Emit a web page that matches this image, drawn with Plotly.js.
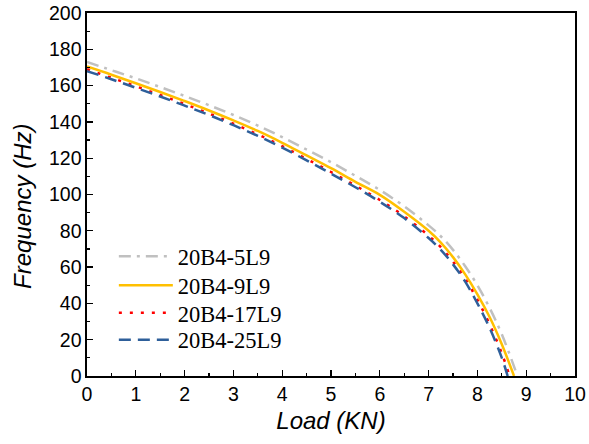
<!DOCTYPE html>
<html>
<head>
<meta charset="utf-8">
<script src="https://cdn.plot.ly/plotly-3.0.1.min.js"></script>
<style>html,body{margin:0;padding:0;background:#fff;}#chart{width:589px;height:444px;}</style>
</head>
<body>
<div id="chart"></div>
<script>
// Load (KN)
const loadA = [0, 0.5, 1, 1.5, 2, 2.5, 3, 3.5, 4, 4.5, 5, 5.5, 6, 6.5, 7, 7.25, 7.5, 7.75, 8, 8.25, 8.5];
// 20B4-5L9
const freq5 = [173, 168.5, 164, 159.2, 154.3, 149.2, 143.8, 138, 131.6, 124.8, 117.8, 110.3, 102.5, 93.5, 83, 77, 69.5, 60.5, 50, 37.5, 23];
const end5 = 8.82;
// 20B4-9L9
const freq9 = [170.5, 166, 161.3, 156.5, 151.5, 146.3, 140.8, 135, 128.5, 121.5, 114.5, 107, 99.8, 90.5, 80, 73.5, 65.5, 56, 45, 32.5, 17.5];
const end9 = 8.75;
// 20B4-17L9
const freq17 = [169, 164.3, 159.6, 154.8, 149.8, 144.6, 139, 133.1, 126.6, 119.6, 112.4, 104.9, 97, 88, 77.3, 71, 63, 53.5, 42, 28.5, 12.5];
const end17 = 8.66;
// 20B4-25L9
const freq25 = [168, 163.5, 158.8, 154, 149, 143.8, 138.2, 132.3, 125.8, 118.8, 111.5, 104, 96, 87, 76, 69.5, 61.5, 52, 40, 26.5, 10];
const end25 = 8.62;

const names = ['20B4-5L9', '20B4-9L9', '20B4-17L9', '20B4-25L9'];
const xTicks = [0,1,2,3,4,5,6,7,8,9,10];
const yTicks = [0,20,40,60,80,100,120,140,160,180,200];
const xTitle = 'Load (KN)';
const yTitle = 'Frequency (Hz)';

function series(vals, end) {
  return {x: loadA.concat([end]), y: vals.concat([0])};
}
const s5 = series(freq5, end5), s9 = series(freq9, end9), s17 = series(freq17, end17), s25 = series(freq25, end25);

const traces = [
  {x: s5.x, y: s5.y, name: names[0], legend: 'legend', mode: 'lines', line: {color: '#c0c0c0', width: 2.5, dash: '12px,6px,3px,6px', shape: 'spline'}},
  {x: s9.x, y: s9.y, name: names[1], legend: 'legend2', mode: 'lines', line: {color: '#ffc000', width: 2.5, shape: 'spline'}},
  {x: s17.x, y: s17.y, name: names[2], legend: 'legend3', mode: 'lines', line: {color: '#ff0000', width: 2.5, dash: '3px,8px', shape: 'spline'}},
  {x: s25.x, y: s25.y, name: names[3], legend: 'legend4', mode: 'lines', line: {color: '#2e5f9a', width: 2.5, dash: '12px,7px', shape: 'spline'}}
];

const axisCommon = {
  showgrid: false, zeroline: false, showline: true, linecolor: '#000', linewidth: 1.6,
  mirror: true, ticks: 'inside', ticklen: 6, tickwidth: 1.3, tickcolor: '#000',
  tickfont: {family: 'Liberation Sans, Arial', size: 19.5, color: '#000'}
};

function legendAt(y) {
  return {x: 0.055, y: y, xanchor: 'left', yanchor: 'middle', bgcolor: 'rgba(0,0,0,0)',
          font: {family: 'Liberation Serif, Times New Roman', size: 22.5, color: '#000'},
          itemwidth: 54};
}

const layout = {
  width: 589, height: 444,
  margin: {l: 87, r: 14, t: 13, b: 68},
  paper_bgcolor: '#fff', plot_bgcolor: '#fff',
  showlegend: true,
  legend: legendAt(0.329),
  legend2: legendAt(0.249),
  legend3: legendAt(0.173),
  legend4: legendAt(0.099),
  xaxis: Object.assign({}, axisCommon, {
    range: [0, 10], tickvals: xTicks, ticktext: xTicks.map(String),
    minor: {dtick: 0.5, ticks: 'inside', ticklen: 3, tickwidth: 1.2, tickcolor: '#000'},
    title: {text: '<i>' + xTitle + '</i>', font: {family: 'Liberation Sans, Arial', size: 24, color: '#000'}, standoff: 8}
  }),
  yaxis: Object.assign({}, axisCommon, {
    range: [0, 200], tickvals: yTicks, ticktext: yTicks.map(String),
    minor: {dtick: 10, ticks: 'inside', ticklen: 3, tickwidth: 1.2, tickcolor: '#000'}
  }),
  annotations: [{
    text: '<i>' + yTitle + '</i>', textangle: -90, showarrow: false,
    xref: 'paper', yref: 'paper', x: -0.131, y: 0.466, xanchor: 'center', yanchor: 'middle',
    font: {family: 'Liberation Sans, Arial', size: 24, color: '#000'}
  }]
};

Plotly.newPlot('chart', traces, layout, {displayModeBar: false, staticPlot: true});
</script>
</body>
</html>
